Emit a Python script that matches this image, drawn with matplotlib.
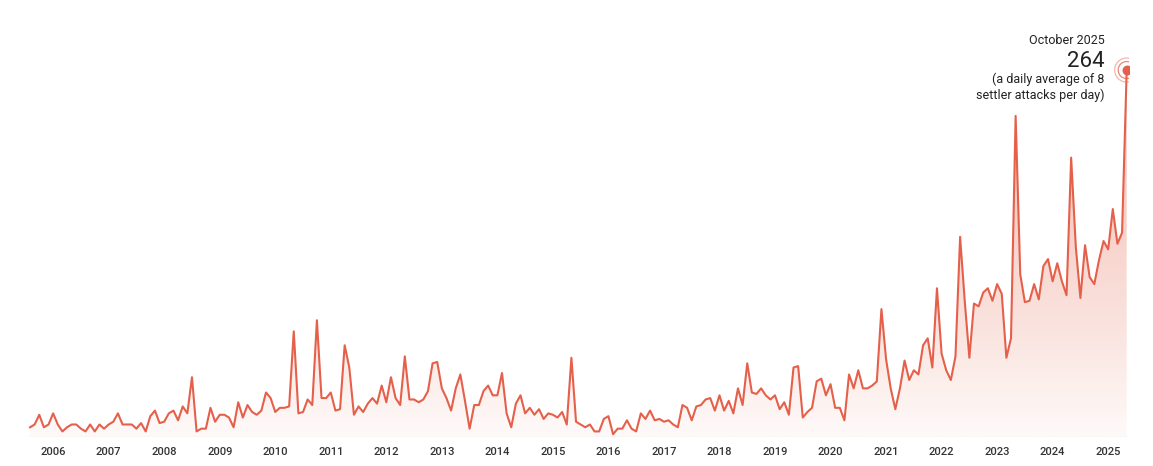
import matplotlib.pyplot as plt
import numpy as np
from matplotlib.colors import LinearSegmentedColormap

plt.rcParams['font.family'] = ['Roboto', 'DejaVu Sans']

# Monthly settler attacks, Jan 2006 .. Oct 2025
attacks = [
    7, 9, 16, 7, 9, 17, 9, 4, 7, 9, 9, 6,            # 2006
    4, 9, 4, 9, 6, 9, 11, 17, 9, 9, 9, 6,            # 2007
    10, 4, 15, 19, 10, 11, 17, 19, 12, 22, 17, 43,   # 2008
    4, 6, 6, 21, 11, 16, 16, 14, 7, 25, 14, 23,      # 2009
    18, 16, 19, 32, 28, 18, 21, 21, 22, 76, 17, 18,  # 2010
    27, 23, 84, 28, 28, 32, 19, 20, 66, 50, 16, 22,  # 2011
    18, 24, 28, 24, 37, 25, 43, 28, 23, 58, 27, 27,  # 2012
    25, 27, 33, 53, 54, 35, 28, 19, 35, 45, 26, 6,   # 2013
    23, 23, 33, 37, 30, 30, 46, 17, 7, 24, 30, 17,   # 2014
    21, 16, 20, 13, 17, 16, 14, 18, 9, 57, 11, 9,    # 2015
    7, 9, 4, 4, 13, 15, 2, 6, 6, 12, 6, 4,           # 2016
    17, 13, 19, 12, 13, 11, 12, 9, 7, 23, 21, 12,    # 2017
    22, 23, 27, 28, 19, 30, 19, 26, 17, 35, 23, 53,  # 2018
    32, 31, 35, 30, 27, 30, 20, 25, 16, 50, 51, 14,  # 2019
    18, 21, 40, 42, 30, 38, 21, 21, 12, 45, 35, 48,  # 2020
    35, 35, 37, 40, 92, 56, 35, 20, 35, 55, 41, 48,  # 2021
    45, 66, 71, 50, 107, 60, 48, 41, 58, 144, 98, 57,          # 2022
    96, 94, 104, 107, 98, 110, 103, 57, 71, 231, 117, 97,      # 2023
    98, 110, 99, 123, 128, 112, 125, 112, 102, 201, 137, 100,  # 2024
    138, 115, 110, 127, 141, 135, 164, 139, 147, 264,          # 2025
]
years = list(range(2006, 2026))

line_color = '#e5604b'
text_color = '#222222'

x = np.arange(len(attacks))
y = np.array(attacks, dtype=float)

fig = plt.figure(figsize=(11.53, 4.66), dpi=100)
ax = fig.add_axes([27 / 1153, 29 / 466, 1102 / 1153, 417 / 466])
ax.set_xlim(-0.65, len(attacks) - 1 + 0.5)
ax.set_ylim(0, 300)

# gradient fill under the line
cmap = LinearSegmentedColormap.from_list(
    'fade', ['#fefaf9', '#fae3de', '#f6d0c8', '#f3c1b6'])
grad = np.linspace(0, 1, 256).reshape(-1, 1)
poly = ax.fill_between(x, 0, y, color='none', lw=0)
img = ax.imshow(grad, cmap=cmap, origin='lower', aspect='auto',
                extent=[x[0], x[-1], 0, 240], zorder=1, vmin=0, vmax=1)
img.set_clip_path(poly.get_paths()[0], transform=ax.transData)

ax.plot(x, y, color=line_color, lw=1.5, zorder=3)
ax.axhline(0, color='#e6e6e6', lw=1, zorder=2)

# highlight of the last month
ax.scatter([x[-1]], [y[-1]], s=38, color=line_color, zorder=5)
ax.scatter([x[-1]], [y[-1]], s=150, facecolor='none', edgecolor=line_color,
           lw=0.9, alpha=0.75, zorder=5)
ax.scatter([x[-1]], [y[-1]], s=300, facecolor='none', edgecolor=line_color,
           lw=0.9, alpha=0.45, zorder=5)

tx = x[-1] - 4.8
ax.text(tx, y[-1] + 21, 'October 2025', ha='right', va='center',
        fontsize=9, color=text_color)
ax.text(tx, y[-1] + 6.5, f'{attacks[-1]:.0f}', ha='right', va='center',
        fontsize=16, color=text_color)
ax.text(tx, y[-1] - 12.5, '(a daily average of 8\nsettler attacks per day)',
        ha='right', va='center', fontsize=9, color=text_color, linespacing=1.2)

ax.set_xticks([12 * i + 5 for i in range(len(years))])
ax.set_xticklabels([str(yr) for yr in years], fontsize=8, color='#333333',
                   fontweight='medium')
ax.tick_params(axis='x', length=0, pad=7)
ax.set_yticks([])
for s in ax.spines.values():
    s.set_visible(False)

fig.savefig('out.png', dpi=100)
